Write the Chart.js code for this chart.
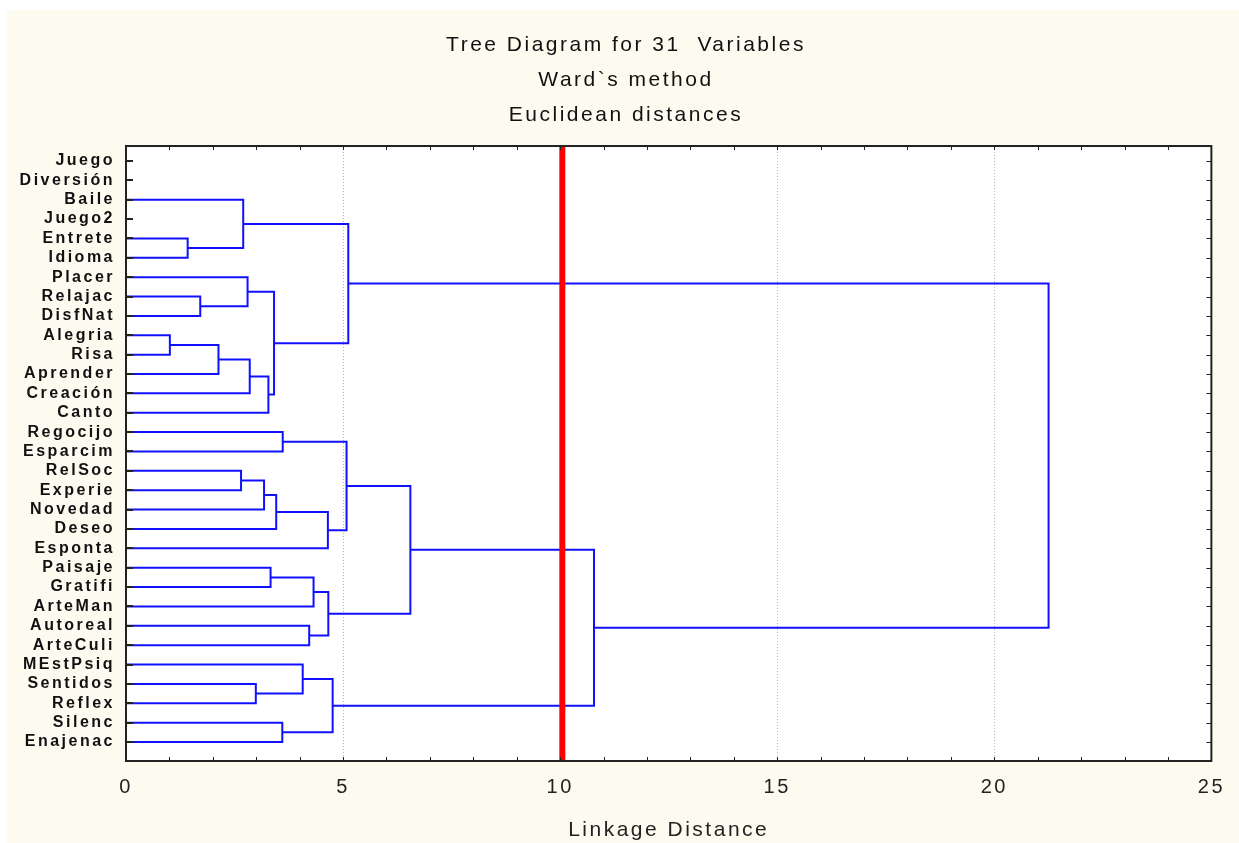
<!DOCTYPE html>
<html>
<head>
<meta charset="utf-8">
<title>Tree Diagram for 31 Variables</title>
<script src="https://cdn.jsdelivr.net/npm/chart.js@4"></script>
<style>
  body { margin: 0; background: #ffffff; }
  #wrap { width: 1239px; height: 843px; position: relative; }
</style>
</head>
<body>
<div id="wrap"><canvas id="treeChart"></canvas></div>
<script>
// leaves, top to bottom
const leaves = ["Juego", "Diversión", "Baile", "Juego2", "Entrete", "Idioma", "Placer", "Relajac",
    "DisfNat", "Alegria", "Risa", "Aprender", "Creación", "Canto", "Regocijo", "Esparcim",
    "RelSoc", "Experie", "Novedad", "Deseo", "Esponta", "Paisaje", "Gratifi", "ArteMan",
    "Autoreal", "ArteCuli", "MEstPsiq", "Sentidos", "Reflex", "Silenc", "Enajenac"];

// joins, "#n" = cluster made by join n (1-based)
const mergeLeft = ["Entrete", "Baile", "Relajac", "Placer", "Alegria", "#5", "#6", "#7", "#4", "#2",
    "Regocijo", "RelSoc", "#12", "#13", "#14", "#11", "Paisaje", "#17", "Autoreal", "#18",
    "#16", "Sentidos", "MEstPsiq", "Silenc", "#23", "#21", "#10"];
const mergeRight = ["Idioma", "#1", "DisfNat", "#3", "Risa", "Aprender", "Creación", "Canto", "#8", "#9",
    "Esparcim", "Experie", "Novedad", "Deseo", "Esponta", "#15", "Gratifi", "ArteMan", "ArteCuli", "#19",
    "#20", "Reflex", "#22", "Enajenac", "#24", "#25", "#26"];
const mergeHeight = [1.42, 2.70, 1.71, 2.80, 1.01, 2.13, 2.85, 3.28, 3.41, 5.12,
    3.61, 2.65, 3.18, 3.46, 4.65, 5.08, 3.33, 4.32, 4.22, 4.66,
    6.55, 2.99, 4.07, 3.60, 4.76, 10.78, 21.25];

const xTicks = [0, 5, 10, 15, 20, 25];
const cutDistance = 10.05;

const yMin = -0.77, yMax = 30.98;

// position of a leaf or cluster
const nodePos = [];
function posOf(name) {
    if (name.charAt(0) === "#") return nodePos[parseInt(name.slice(1)) - 1];
    return { x: 0, y: leaves.indexOf(name) };
}

const datasets = [{
    data: [{ x: cutDistance, y: yMin }, { x: cutDistance, y: yMax }],
    borderColor: "#ff0000",
    borderWidth: 6
}];

for (let i = 0; i < mergeHeight.length; i++) {
    const a = posOf(mergeLeft[i]);
    const b = posOf(mergeRight[i]);
    const h = mergeHeight[i];
    nodePos.push({ x: h, y: (a.y + b.y) / 2 });
    datasets.push({
        data: [{ x: a.x, y: a.y }, { x: h, y: a.y }, { x: h, y: b.y }, { x: b.x, y: b.y }],
        borderColor: "#1010ff",
        borderWidth: 2
    });
}

const framePlugin = {
    id: "frame",
    beforeUpdate(chart) {
        chart.ctx.letterSpacing = "2.5px";
    },
    beforeDraw(chart) {
        const ctx = chart.ctx;
        const { left, right, top, bottom } = chart.chartArea;
        ctx.save();
        ctx.fillStyle = "#ffffff";
        ctx.fillRect(0, 0, chart.width, chart.height);
        ctx.fillStyle = "#fdfbf0";
        ctx.fillRect(7, 10, chart.width - 7, chart.height - 10);
        ctx.fillStyle = "#ffffff";
        ctx.fillRect(left, top, right - left, bottom - top);
        ctx.restore();
        ctx.letterSpacing = "2.5px";
    },
    afterDraw(chart) {
        const ctx = chart.ctx;
        const { left, right, top, bottom } = chart.chartArea;
        const xs = chart.scales.x, ys = chart.scales.y;
        ctx.save();
        ctx.strokeStyle = "#222222";
        ctx.lineWidth = 1;
        ctx.beginPath();
        for (let v = 1; v < 25; v++) {
            const px = Math.round(xs.getPixelForValue(v)) + 0.5;
            ctx.moveTo(px, top); ctx.lineTo(px, top + 4);
            ctx.moveTo(px, bottom); ctx.lineTo(px, bottom - 4);
        }
        leaves.forEach(function(_, i) {
            const py = Math.round(ys.getPixelForValue(i)) + 0.5;
            ctx.moveTo(right, py); ctx.lineTo(right - 5, py);
        });
        ctx.stroke();
        ctx.lineWidth = 2;
        ctx.beginPath();
        leaves.forEach(function(_, i) {
            const py = Math.round(ys.getPixelForValue(i));
            ctx.moveTo(left, py); ctx.lineTo(left + 7, py);
        });
        ctx.stroke();
        ctx.strokeRect(left, top, right - left, bottom - top);
        ctx.restore();
    }
};

new Chart(document.getElementById("treeChart").getContext("2d"), {
    type: "scatter",
    data: { datasets: datasets },
    options: {
        responsive: true,
        maintainAspectRatio: false,
        animation: false,
        showLine: true,
        elements: { point: { radius: 0, hoverRadius: 0 }, line: { tension: 0 } },
        layout: { padding: { left: 13, right: 0, top: 0, bottom: 0 } },
        plugins: {
            legend: { display: false },
            tooltip: { enabled: false },
            title: {
                display: true,
                text: ["Tree Diagram for 31  Variables", "Ward`s method", "Euclidean distances"],
                color: "#111111",
                font: { family: "'Liberation Sans', Arial, sans-serif", size: 21, weight: "normal", lineHeight: 1.667 },
                padding: { top: 28, bottom: 13 }
            }
        },
        scales: {
            x: {
                type: "linear",
                min: 0,
                max: 25,
                afterBuildTicks: function(scale) {
                    scale.ticks = xTicks.map(function(v) { return { value: v }; });
                },
                afterFit: function(scale) { scale.height = 82; },
                grid: { color: "#b4b4b4", lineWidth: 1, drawTicks: false },
                border: { display: false, dash: [1, 2] },
                ticks: {
                    color: "#222222",
                    padding: 14,
                    font: { family: "'Liberation Sans', Arial, sans-serif", size: 20 }
                },
                title: {
                    display: true,
                    text: "Linkage Distance",
                    color: "#222222",
                    padding: { top: 0, bottom: 0 },
                    font: { family: "'Liberation Sans', Arial, sans-serif", size: 21, lineHeight: 1.2 }
                }
            },
            y: {
                type: "linear",
                reverse: true,
                min: yMin,
                max: yMax,
                afterBuildTicks: function(scale) {
                    scale.ticks = leaves.map(function(_, i) { return { value: i }; });
                },
                afterFit: function(scale) { scale.width = 113; },
                grid: { display: false, drawTicks: false },
                border: { display: false },
                ticks: {
                    color: "#111111",
                    padding: 11,
                    autoSkip: false,
                    font: { family: "'Liberation Sans', Arial, sans-serif", size: 16, weight: "bold" },
                    callback: function(v) { return leaves[v]; }
                }
            },
            // empty strip right of the plot
            yRight: {
                type: "linear",
                position: "right",
                afterFit: function(scale) { scale.width = 20; },
                grid: { display: false, drawTicks: false },
                border: { display: false },
                ticks: { display: false }
            }
        }
    },
    plugins: [framePlugin]
});
</script>
</body>
</html>
